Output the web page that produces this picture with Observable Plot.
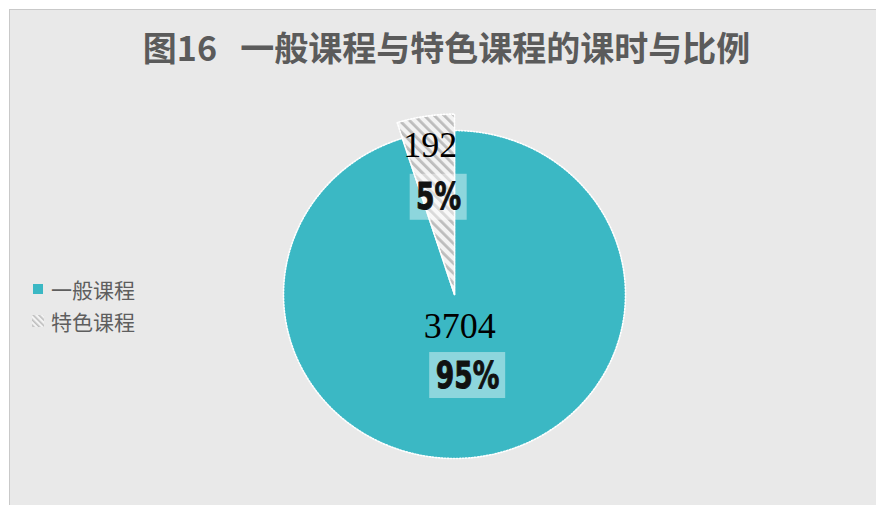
<!DOCTYPE html>
<html>
<head>
<meta charset="utf-8">
<script src="https://cdn.jsdelivr.net/npm/d3@7"></script>
<script src="https://cdn.jsdelivr.net/npm/@observablehq/plot@0.6"></script>
<style>
  html, body { margin: 0; padding: 0; background: #ffffff; }
  #wrap { position: relative; width: 876px; height: 505px; overflow: hidden; }
  #bg { position: absolute; left: 9px; top: 9px; right: 0; bottom: 0; background: #e9e9e9;
        border-left: 1px solid #c9c9c9; border-top: 1px solid #c9c9c9; }
  #chart { position: absolute; left: 0; top: 0; }
  #title { position: absolute; left: 0; top: 22px; width: 893px; text-align: center; white-space: pre;
           font-family: "Noto Sans CJK SC", sans-serif; font-weight: bold; font-size: 34px; color: #5b5b5b; letter-spacing: 0px; }
  .leg { position: absolute; left: 31px; font-family: "Noto Sans CJK SC", sans-serif; font-size: 21px; color: #5e5e5e;
         display: flex; align-items: center; height: 26px; }
  .leg svg { margin-right: 6px; }
</style>
</head>
<body>
<div id="wrap">
  <div id="bg"></div>
  <div id="chart"></div>
  <div id="title"></div>
  <div class="leg" id="leg0" style="top:276px"></div>
  <div class="leg" id="leg1" style="top:308px"></div>
</div>
<script>
// ---- data ----
const titleText = "图16   一般课程与特色课程的课时与比例";
const categories = ["一般课程", "特色课程"];
const hours = [3704, 192];
const percentLabels = ["95%", "5%"];

// ---- style / layout constants ----
const teal = "#3bb8c4";
const W = 876, H = 505;
const cx = 454, cy = 294, rx = 171, ry = 164;
const sliceRadius = [1.0, 1.1];
const valueR = [0.2, 0.92];
const pctR = [0.5, 0.6];

// pie angles from the data
const arcs = d3.pie().sort(null)(hours);
const slices = [];
arcs.forEach((a, i) => {
  const n = 240, R = sliceRadius[i];
  slices.push({cat: categories[i], x: 0, y: 0});
  for (let k = 0; k <= n; k++) {
    const t = a.startAngle + (a.endAngle - a.startAngle) * k / n;
    slices.push({cat: categories[i], x: R * Math.sin(t), y: R * Math.cos(t)});
  }
  slices.push({cat: categories[i], x: 0, y: 0});
});
const mid = a => (a.startAngle + a.endAngle) / 2;
const valueLabels = arcs.map((a, i) => ({text: String(hours[i]), x: valueR[i] * Math.sin(mid(a)), y: valueR[i] * Math.cos(mid(a))}));
const pctRows = arcs.map((a, i) => ({text: percentLabels[i], x: pctR[i] * Math.sin(mid(a)), y: pctR[i] * Math.cos(mid(a))}));
const boxes = pctRows.map(d => {
  const hw = 19 * (d.text.length + 1) / 2 / rx, hh = 23 / ry;
  return {x1: d.x - hw, x2: d.x + hw, y1: d.y - hh, y2: d.y + hh};
});

const chart = Plot.plot({
  width: W, height: H,
  margin: 0,
  style: {background: "transparent", overflow: "visible"},
  x: {domain: [-cx / rx, (W - cx) / rx], axis: null},
  y: {domain: [-(H - cy) / ry, cy / ry], axis: null},
  color: {type: "ordinal", domain: categories, range: [teal, "url(#hatch)"]},
  marks: [
    Plot.line(slices, {x: "x", y: "y", z: "cat", fill: "cat", stroke: "#ffffff", strokeWidth: 1.6, strokeDasharray: "1.4 1.6", curve: "linear"}),
    Plot.rect(boxes, {x1: "x1", x2: "x2", y1: "y1", y2: "y2", fill: "#ffffff", fillOpacity: 0.42}),
    Plot.text(valueLabels, {x: "x", y: "y", text: "text", fontSize: 36, fontFamily: "'Liberation Serif', 'DejaVu Serif', serif", fill: "#000000"}),
    Plot.text(pctRows, {x: "x", y: "y", text: "text", fontSize: 38, fontWeight: 900, fontFamily: "'DejaVu Sans', sans-serif", fill: "#111111", stroke: "#111111", strokeWidth: 1})
  ]
});

// condense the percentage labels horizontally (Impact-like look)
const textGroups = chart.querySelectorAll('g[aria-label="text"]');
if (textGroups.length > 1) {
  textGroups[textGroups.length - 1].querySelectorAll("text").forEach(t => {
    const tr = t.getAttribute("transform") || "";
    t.setAttribute("transform", tr + " scale(0.7,1)");
  });
}

// hatch pattern definition
const ns = "http://www.w3.org/2000/svg";
const defs = document.createElementNS(ns, "defs");
defs.innerHTML = `<pattern id="hatch" patternUnits="userSpaceOnUse" width="7" height="7" patternTransform="rotate(-45)">
  <rect width="7" height="7" fill="#f3f3f3"></rect><rect width="2.8" height="7" fill="#bdbdbd"></rect></pattern>
  <pattern id="hatchs" patternUnits="userSpaceOnUse" width="4" height="4" patternTransform="rotate(-45)">
  <rect width="4" height="4" fill="#f3f3f3"></rect><rect width="1.6" height="4" fill="#bdbdbd"></rect></pattern>`;
chart.insertBefore(defs, chart.firstChild);
document.getElementById("chart").appendChild(chart);

document.getElementById("title").textContent = titleText;
const swatches = [
  `<svg width="14" height="14"><rect x="2" y="2" width="10" height="10" fill="${teal}"></rect></svg>`,
  `<svg width="14" height="14"><rect x="1" y="1" width="12" height="12" fill="url(#hatchs)"></rect></svg>`
];
categories.forEach((c, i) => {
  document.getElementById("leg" + i).innerHTML = swatches[i] + `<span>${c}</span>`;
});
</script>
</body>
</html>
